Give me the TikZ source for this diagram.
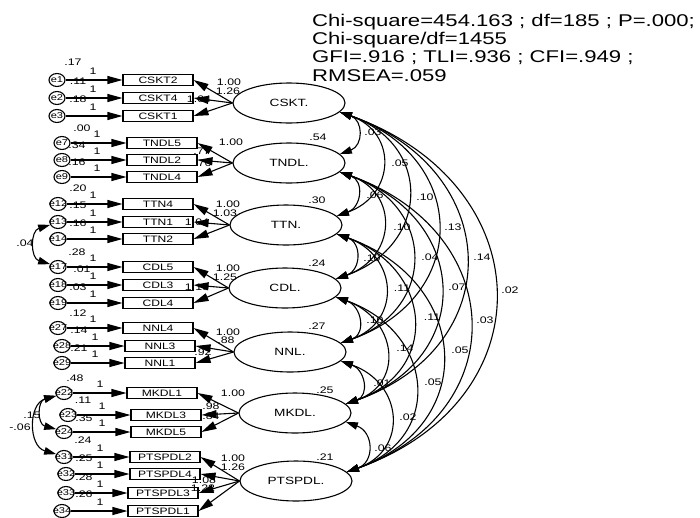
\documentclass[tikz,border=0pt]{standalone}
\usepackage{fontspec}
\setmainfont{Liberation Sans}[FakeStretch=1.3]
\usetikzlibrary{arrows.meta,shapes.geometric}
\begin{document}
\begin{tikzpicture}[x=1pt,y=-1pt,
  obs/.style={draw,line width=1.1pt,minimum width=70pt,minimum height=11pt,inner sep=0pt,font=\fontsize{9.3}{9.3}\selectfont},
  err/.style={draw,ellipse,line width=1.1pt,minimum width=16pt,minimum height=13pt,inner sep=0pt,font=\fontsize{8.5}{8.5}\selectfont},
  lat/.style={draw,ellipse,line width=1.1pt,minimum width=112pt,minimum height=40pt,inner sep=0pt,font=\fontsize{10.5}{10.5}\selectfont},
  lab/.style={inner sep=0pt,font=\fontsize{9.5}{9.5}\selectfont},
  hdr/.style={inner sep=0pt,anchor=base west,font=\fontsize{17}{17}\selectfont},
  arr/.style={line width=1.1pt,-{Triangle[length=15pt,width=8pt]}},
  cov/.style={line width=1.1pt,{Triangle[length=12pt,width=7.5pt]}-{Triangle[length=12pt,width=7.5pt]}}
]
\useasboundingbox (0,0) rectangle (700,517);

% header
\node[hdr] (h1) at (312,26) {Chi-square=454.163 ; df=185 ; P=.000;};
\node[hdr] (h2) at (312,44) {Chi-square/df=1455};
\node[hdr] (h3) at (312,62) {GFI=.916 ; TLI=.936 ; CFI=.949 ;};
\node[hdr] (h4) at (312,81) {RMSEA=.059};

% latent variables
\node[lat] (CSKT) at (289,103) {CSKT.};
\node[lat] (TNDL) at (289,163) {TNDL.};
\node[lat] (TTN) at (286,225) {TTN.};
\node[lat] (CDL) at (285,288) {CDL.};
\node[lat] (NNL) at (290,352) {NNL.};
\node[lat] (MKDL) at (295,413) {MKDL.};
\node[lat] (PTSPDL) at (296,481) {PTSPDL.};

% observed variables and errors
\foreach \ob/\ox/\oy/\er/\ex in {
  CSKT2/158/80/e1/57, CSKT4/158/98/e2/57, CSKT1/158/116/e3/57,
  TNDL5/162/143/e7/62, TNDL2/162/160/e8/62, TNDL4/162/177/e9/62,
  TTN4/158/204/e12/58, TTN1/158/222/e13/58, TTN2/158/239/e14/58,
  CDL5/158/267/e17/58, CDL3/158/285/e18/58, CDL4/158/303/e19/58,
  NNL4/158/328/e27/58, NNL3/160/346/e28/62, NNL1/160/363/e29/62,
  MKDL1/162/393/e22/64, MKDL3/166/415/e23/68, MKDL5/166/432/e24/64,
  PTSPDL2/165/457/e31/64, PTSPDL4/165/474/e32/66,
  PTSPDL3/163/493/e33/66, PTSPDL1/163/511/e34/62}
{
  \node[obs] (\ob) at (\ox,\oy) {\ob};
  \node[err] (\er) at (\ex,\oy) {\makebox[0pt]{\er}};
}

% labels drawn before arrows so arrowheads may cover them
\foreach \x/\y/\t [count=\i] in {
  93/71/1, 93/89/1, 93/107/1, 97/134/1, 97/151/1, 97/168/1,
  93/195/1, 93/213/1, 93/230/1, 93/258/1, 93/276/1, 93/294/1,
  93/319/1, 95/337/1, 95/354/1, 100/384/1, 102/406/1, 102/423/1,
  100/448/1, 100/465/1, 100/484/1, 100/502/1,
  73/62/.17, 78/81/.11, 78/99/.18, 82/128/.00, 77/145/.34, 77/162/.16,
  78/188/.20, 78/205/.15, 78/223/.16, 77/252/.28, 82/269/.01, 78/287/.03,
  78/313/.12, 79/330/.14, 79/348/.21, 75/378/.48, 83/400/.11, 84/418/.35,
  83/440/.24, 84/458/.25, 84/477/.28, 84/494/.26,
  318/137/.54, 317/200/.30, 317/263/.24, 317/326/.27, 325/390/.25, 325/457/.21,
  229/82/1.00, 228/91/1.26, 199/99/1.04,
  231/142/1.00, 202/151/.77, 203/163/.76,
  228/204/1.00, 225/213/1.03, 197/222/1.04,
  228/268/1.00, 225/277/1.25, 197/287/1.10,
  228/332/1.00, 226/340/.88, 203/352/.92,
  233/393/1.00, 211/406/.98, 211/416/.84,
  233/458/1.00, 233/467/1.26, 204/480/1.08, 203/488/1.22,
  373/132/.03, 400/163/.05, 425/197/.10, 453/227/.13, 482/257/.14, 510/290/.02,
  375/195/.06, 402/227/.10, 430/257/.04, 457/287/.07, 485/320/.03,
  372/258/.10, 402/288/.11, 432/317/.11, 460/350/.05,
  375/320/.10, 405/348/.14, 433/382/.05,
  382/383/.01, 408/417/.02, 383/448/.06,
  25/243/.04, 32/415/.15, 20/427/-.06}
{ \node[lab] (l\i) at (\x,\y) {\t}; }

% error arrows and loadings
\foreach \ob/\er/\lv in {
  CSKT2/e1/CSKT, CSKT4/e2/CSKT, CSKT1/e3/CSKT,
  TNDL5/e7/TNDL, TNDL2/e8/TNDL, TNDL4/e9/TNDL,
  TTN4/e12/TTN, TTN1/e13/TTN, TTN2/e14/TTN,
  CDL5/e17/CDL, CDL3/e18/CDL, CDL4/e19/CDL,
  NNL4/e27/NNL, NNL3/e28/NNL, NNL1/e29/NNL,
  MKDL1/e22/MKDL, MKDL3/e23/MKDL, MKDL5/e24/MKDL,
  PTSPDL2/e31/PTSPDL, PTSPDL4/e32/PTSPDL, PTSPDL3/e33/PTSPDL, PTSPDL1/e34/PTSPDL}
{
  \draw[arr] (\er) -- (\ob);
  \draw[arr] (\lv.west) -- (\ob.east);
}

% error covariances
\draw[cov] (e13.200) .. controls +(-20,6) and +(-20,-6) .. (e17.160);
\draw[cov] (e22.200) .. controls +(-19,5) and +(-19,-5) .. (e24.160);
\draw[cov] (e22.200) .. controls +(-28,8) and +(-28,-8) .. (e31.160);

% latent covariances
\foreach \a/\b/\d in {
  CSKT/TNDL/42, CSKT/TTN/104, CSKT/CDL/167, CSKT/NNL/231, CSKT/MKDL/292, CSKT/PTSPDL/360,
  TNDL/TTN/44, TNDL/CDL/107, TNDL/NNL/171, TNDL/MKDL/232, TNDL/PTSPDL/300,
  TTN/CDL/45, TTN/NNL/109, TTN/MKDL/170, TTN/PTSPDL/238,
  CDL/NNL/46, CDL/MKDL/107, CDL/PTSPDL/175,
  NNL/MKDL/43, NNL/PTSPDL/111,
  MKDL/PTSPDL/50}
{
  \draw[cov] (\a.-10) .. controls +(0.56*\d,0.2*\d) and +(0.56*\d,-0.2*\d) .. (\b.10);
}
\end{tikzpicture}
\end{document}
